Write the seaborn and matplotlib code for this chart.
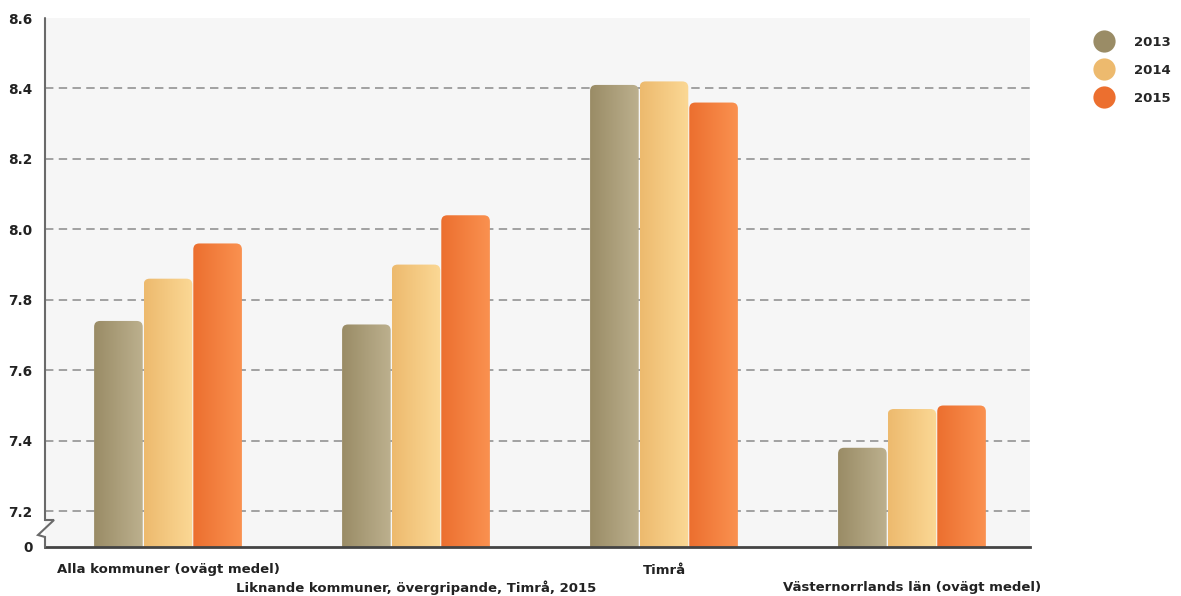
import numpy as np
import pandas as pd
import matplotlib
matplotlib.use("Agg")
import matplotlib.pyplot as plt
import matplotlib.transforms as mtransforms
from matplotlib.patches import FancyBboxPatch
from matplotlib.lines import Line2D
import seaborn as sns

# data
kategorier = ["Alla kommuner (ovägt medel)",
              "Liknande kommuner, övergripande, Timrå, 2015",
              "Timrå",
              "Västernorrlands län (ovägt medel)"]
ar = ["2013", "2014", "2015"]
v2013 = [7.74, 7.73, 8.41, 7.38]
v2014 = [7.86, 7.90, 8.42, 7.49]
v2015 = [7.96, 8.04, 8.36, 7.50]
yticks = [7.2, 7.4, 7.6, 7.8, 8.0, 8.2, 8.4, 8.6]

# gradient colours per year (left, right)
farger = {"2013": ("#9a8c66", "#bcb08e"),
          "2014": ("#edba6e", "#fbd895"),
          "2015": ("#ec6f2f", "#fa9150")}

rows = []
for k, a, b, c in zip(kategorier, v2013, v2014, v2015):
    rows += [(k, "2013", a), (k, "2014", b), (k, "2015", c)]
df = pd.DataFrame(rows, columns=["kategori", "ar", "varde"])

sns.set_style("white")
plt.rcParams["font.family"] = ["DejaVu Sans"]

fig = plt.figure(figsize=(11.81, 5.96), dpi=100)
ax = fig.add_axes([45 / 1181, 49 / 596, 985 / 1181, 529 / 596])
ax.set_facecolor("#f6f6f6")

ybot = 7.2 - 36 / 354.0   # where the broken axis puts "0"
ax.set_ylim(ybot, 8.6)

sns.barplot(data=df, x="kategori", y="varde", hue="ar", order=kategorier,
            hue_order=ar, palette=[farger[a][1] for a in ar], width=0.6,
            ax=ax, legend=False, zorder=2)
ax.set_xlim(-0.496, 3.476)

# replace plain bars by gradient bars with rounded tops
xr = (3.476 + 0.496) / 985.0
yr = (8.6 - ybot) / 529.0
grad = np.linspace(0, 1, 64).reshape(1, -1)
for i, cont in enumerate(ax.containers):
    c0, c1 = farger[ar[i]]
    cmap = matplotlib.colors.LinearSegmentedColormap.from_list("g%d" % i, [c0, c1])
    for p in cont.patches:
        x0 = p.get_x() + 0.5 * xr
        w = p.get_width() - 1.0 * xr
        top = p.get_height()
        p.set_visible(False)
        box = FancyBboxPatch((x0, ybot - 0.1), w, top - ybot + 0.1,
                             boxstyle="round,pad=0,rounding_size=%f" % (6 * xr),
                             mutation_aspect=yr / xr, transform=ax.transData,
                             facecolor="none", edgecolor="none")
        ax.add_patch(box)
        im = ax.imshow(grad, cmap=cmap, aspect="auto", extent=[x0, x0 + w, ybot, top],
                       zorder=2)
        im.set_clip_path(box)
ax.set_xlim(-0.496, 3.476)
ax.set_ylim(ybot, 8.6)

# dashed grid
for y in yticks[:-1]:
    ax.axhline(y, color="#8a8a8a", lw=1.1, ls=(0, (5.5, 3.5)), zorder=1)

ax.set_yticks([ybot] + yticks)
ax.set_yticklabels(["0"] + ["%.1f" % t for t in yticks], fontweight="bold",
                   fontsize=9.8, color="#222222")
ax.tick_params(axis="y", length=0, pad=9)
ax.tick_params(axis="x", length=5, width=1, color="#444444", direction="out")
ax.set_xticks(range(4))
ax.set_xticklabels([])
ax.set_xlabel("")
ax.set_ylabel("")

for s in ["top", "right", "left"]:
    ax.spines[s].set_visible(False)
ax.spines["bottom"].set_color("#444444")
ax.spines["bottom"].set_linewidth(2)

# alternating category labels
tr = mtransforms.blended_transform_factory(ax.transData, ax.transAxes)
for i, k in enumerate(kategorier):
    yy = -23 / 529 if i % 2 == 0 else -41 / 529
    ax.text(i, yy, k, transform=tr, ha="center", va="center", fontsize=9.5,
            fontweight="bold", color="#222222")

# left axis line with break zigzag
px = np.array([45, 45, 54, 38, 45, 45])
py = np.array([18, 520, 520, 535, 537, 547])
ax.plot((px - 45) / 985, (547 - py) / 529, transform=ax.transAxes,
        color="#6a6a6a", lw=1.5, clip_on=False, zorder=5, solid_joinstyle="miter")

# legend
handles = [Line2D([], [], ls="", marker="o", markersize=16,
                  markerfacecolor=farger[a][0], markeredgecolor="none") for a in ar]
leg = fig.legend(handles, ar, loc="upper left", bbox_to_anchor=(1079 / 1181, 1 - 24 / 596),
                 frameon=False, handletextpad=1.3, labelspacing=1.13,
                 prop={"weight": "bold", "size": 9.5})

fig.savefig("out.png", dpi=100, facecolor="white")
